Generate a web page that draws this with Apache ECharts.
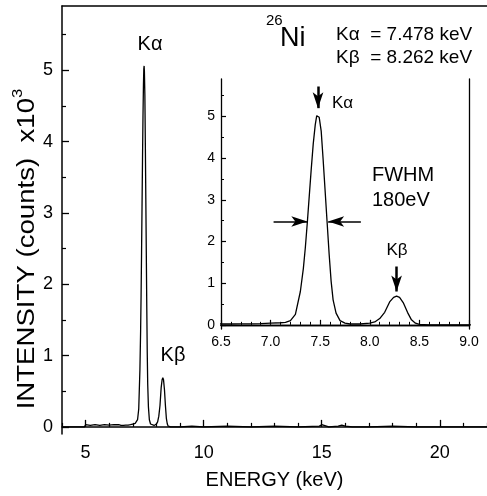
<!DOCTYPE html>
<html lang="en">
<head>
<meta charset="UTF-8">
<title>Ni K spectrum</title>
<style>
    * { margin: 0; padding: 0; }
    body { background: #fff; }
    #chart { width: 487px; height: 496px; }
</style>
</head>
<body>
<div id="chart"></div>
<script src="https://cdn.jsdelivr.net/npm/echarts@6/dist/echarts.min.js"></script>
<script>
// spectrum (energy keV, intensity x10^3 counts)
var energy = [
    4.0, 4.95, 5.0, 5.2, 5.4, 5.6, 5.8, 6.0, 6.2, 6.4,
    6.5, 6.6, 6.7, 6.8, 6.9, 7.0, 7.1, 7.15, 7.2, 7.25,
    7.3, 7.33, 7.35, 7.37, 7.39, 7.41, 7.43, 7.45, 7.465, 7.478,
    7.49, 7.51, 7.53, 7.55, 7.57, 7.59, 7.61, 7.63, 7.66, 7.7,
    7.75, 7.8, 7.9, 8.0, 8.05, 8.1, 8.15, 8.2, 8.24, 8.27,
    8.3, 8.34, 8.38, 8.42, 8.46, 8.5, 8.6, 8.8, 9.0, 9.5,
    10, 11, 12, 13, 14, 14.9, 15.0, 15.1, 15.3, 15.7,
    15.85, 16.0, 16.3, 17, 18, 19, 20, 21, 22
];
var intensity = [
    0.0, 0.0, 0.03, 0.02, 0.03, 0.02, 0.03, 0.025, 0.03, 0.03,
    0.02, 0.02, 0.025, 0.025, 0.03, 0.04, 0.05, 0.06, 0.10, 0.25,
    0.80, 1.35, 1.85, 2.45, 3.10, 3.75, 4.35, 4.80, 5.02, 5.06,
    4.98, 4.65, 3.95, 3.20, 2.45, 1.70, 1.05, 0.60, 0.28, 0.10,
    0.04, 0.02, 0.02, 0.04, 0.07, 0.15, 0.30, 0.55, 0.66, 0.69,
    0.66, 0.52, 0.30, 0.12, 0.04, 0.01, 0.0, 0.0, 0.0, 0.01,
    0.0, 0.01, 0.0, 0.01, 0.0, 0.01, 0.03, 0.02, 0.0, 0.01,
    0.025, 0.01, 0.0, 0.0, 0.01, 0.0, 0.0, 0.0, 0.0
];
var mainXLabels = [5, 10, 15, 20];
var yLabels = [0, 1, 2, 3, 4, 5];
var insetXLabels = [6.5, 7.0, 7.5, 8.0, 8.5, 9.0];

var FONT = 'Liberation Sans, Arial, sans-serif';
var spectrum = energy.map(function (e, i) { return [e, intensity[i]]; });

var mainXMinor = [];
for (var v = 4; v <= 22; v++) if (mainXLabels.indexOf(v) < 0) mainXMinor.push(v);
var yMinor = [];
for (var h = 0.5; h < 5.9; h += 1) yMinor.push(h);

var axisLine = { show: true, lineStyle: { color: '#000', width: 1.5 } };
function hiddenAxis(extra) {
    return Object.assign({
        type: 'value', axisLine: { show: false }, axisLabel: { show: false },
        splitLine: { show: false }, axisTick: { show: false }
    }, extra);
}
function text(x, y, str, size, align) {
    return {
        type: 'text', x: x, y: y, z: 100,
        style: {
            text: str, font: size + 'px ' + FONT, fill: '#000',
            textAlign: align || 'center', textVerticalAlign: 'middle',
            align: align || 'center', verticalAlign: 'middle'
        }
    };
}

var chart = echarts.init(document.getElementById('chart'));
chart.setOption({
    animation: false,
    backgroundColor: '#fff',
    textStyle: { fontFamily: FONT, color: '#000' },
    grid: [
        { left: 62, top: 6, right: 0, bottom: 62 },
        { left: 221, top: 79, width: 248, height: 250, show: true, backgroundColor: '#fff', borderWidth: 0 }
    ],
    xAxis: [
        {
            gridIndex: 0, type: 'value', min: 4, max: 22, position: 'bottom',
            axisLine: axisLine, splitLine: { show: false },
            axisTick: { inside: true, length: 7, customValues: mainXLabels, lineStyle: { color: '#000', width: 1.3 } },
            axisLabel: { customValues: mainXLabels, fontSize: 18, margin: 10, color: '#000', fontFamily: FONT },
            name: 'ENERGY (keV)', nameLocation: 'middle', nameGap: 36,
            nameTextStyle: { fontSize: 20, color: '#000', fontFamily: FONT }
        },
        hiddenAxis({ gridIndex: 0, min: 4, max: 22, position: 'bottom',
            axisTick: { show: true, inside: true, length: 4, customValues: mainXMinor, lineStyle: { color: '#000', width: 1.2 } } }),
        hiddenAxis({ gridIndex: 0, min: 4, max: 22, position: 'top', axisLine: axisLine }),
        {
            gridIndex: 1, type: 'value', min: 6.5, max: 9.0, interval: 0.5, position: 'bottom',
            axisLine: { show: true, lineStyle: { color: '#000', width: 1.3 } }, splitLine: { show: false },
            axisTick: { inside: true, length: 5, lineStyle: { color: '#000', width: 1.2 } },
            minorTick: { show: true, splitNumber: 5, length: 3, lineStyle: { color: '#000', width: 1 } },
            axisLabel: { fontSize: 14, margin: 6, color: '#000', fontFamily: FONT,
                formatter: function (val) { return val.toFixed(1); } }
        },
        hiddenAxis({ gridIndex: 1, min: 6.5, max: 9.0, position: 'top',
            axisLine: { show: true, lineStyle: { color: '#000', width: 1.3 } } })
    ],
    yAxis: [
        {
            gridIndex: 0, type: 'value', min: -0.1, max: 5.9, position: 'left',
            axisLine: axisLine, splitLine: { show: false },
            axisTick: { inside: true, length: 7, customValues: yLabels, lineStyle: { color: '#000', width: 1.3 } },
            axisLabel: { customValues: yLabels, fontSize: 18, margin: 9, color: '#000', fontFamily: FONT }
        },
        hiddenAxis({ gridIndex: 0, min: -0.1, max: 5.9, position: 'left',
            axisTick: { show: true, inside: true, length: 4, customValues: yMinor, lineStyle: { color: '#000', width: 1.2 } } }),
        {
            gridIndex: 1, type: 'value', min: -0.1, max: 5.9, position: 'left',
            axisLine: { show: true, lineStyle: { color: '#000', width: 1.3 } }, splitLine: { show: false },
            axisTick: { inside: true, length: 5, customValues: yLabels, lineStyle: { color: '#000', width: 1.2 } },
            axisLabel: { customValues: yLabels, fontSize: 14, margin: 6, color: '#000', fontFamily: FONT }
        },
        hiddenAxis({ gridIndex: 1, min: -0.1, max: 5.9, position: 'left',
            axisTick: { show: true, inside: true, length: 3, customValues: yMinor, lineStyle: { color: '#000', width: 1 } } }),
        hiddenAxis({ gridIndex: 1, min: -0.1, max: 5.9, position: 'right',
            axisLine: { show: true, lineStyle: { color: '#000', width: 1.3 } } })
    ],
    series: [
        {
            type: 'line', xAxisIndex: 0, yAxisIndex: 0, data: spectrum,
            symbol: 'none', lineStyle: { color: '#000', width: 1.3 }
        },
        {
            type: 'line', xAxisIndex: 3, yAxisIndex: 2, data: spectrum, clip: true,
            symbol: 'none', lineStyle: { color: '#000', width: 1.3 },
            markLine: {
                silent: true, label: { show: false },
                symbol: ['none', 'arrow'],
                data: [
                    [{ coord: [7.478, 5.72], symbolSize: 9, lineStyle: { color: '#000', width: 2.5, type: 'solid' } }, { coord: [7.478, 5.2] }],
                    [{ coord: [8.27, 1.4], symbolSize: 9, lineStyle: { color: '#000', width: 2.5, type: 'solid' } }, { coord: [8.27, 0.8] }],
                    [{ coord: [7.03, 2.48], symbolSize: 10, lineStyle: { color: '#000', width: 1.5, type: 'solid' } }, { coord: [7.37, 2.48] }],
                    [{ coord: [7.91, 2.48], symbolSize: 10, lineStyle: { color: '#000', width: 1.5, type: 'solid' } }, { coord: [7.58, 2.48] }]
                ]
            }
        }
    ],
    graphic: [
        {
            type: 'text', x: 25, y: 249, rotation: Math.PI / 2, scaleX: 1.2, z: 100,
            style: {
                text: '{a|INTENSITY (counts)  x10}{s|3}',
                fill: '#000', align: 'center', verticalAlign: 'middle',
                textAlign: 'center', textVerticalAlign: 'middle',
                rich: {
                    a: { fontSize: 23, fontFamily: FONT, lineHeight: 28, verticalAlign: 'bottom', fill: '#000' },
                    s: { fontSize: 14, fontFamily: FONT, lineHeight: 28, verticalAlign: 'top', fill: '#000' }
                }
            }
        },
        text(150, 44, 'Kα', 20),
        text(173, 355, 'Kβ', 20),
        text(266, 21, '26', 15, 'left'),
        text(280, 39, 'Ni', 27, 'left'),
        text(336, 35, 'Kα  = 7.478 keV', 19, 'left'),
        text(336, 58, 'Kβ  = 8.262 keV', 19, 'left'),
        text(332, 103, 'Kα', 17, 'left'),
        text(397, 250, 'Kβ', 17),
        text(372, 175, 'FWHM', 20, 'left'),
        text(372, 200, '180eV', 20, 'left')
    ]
});
</script>
</body>
</html>
